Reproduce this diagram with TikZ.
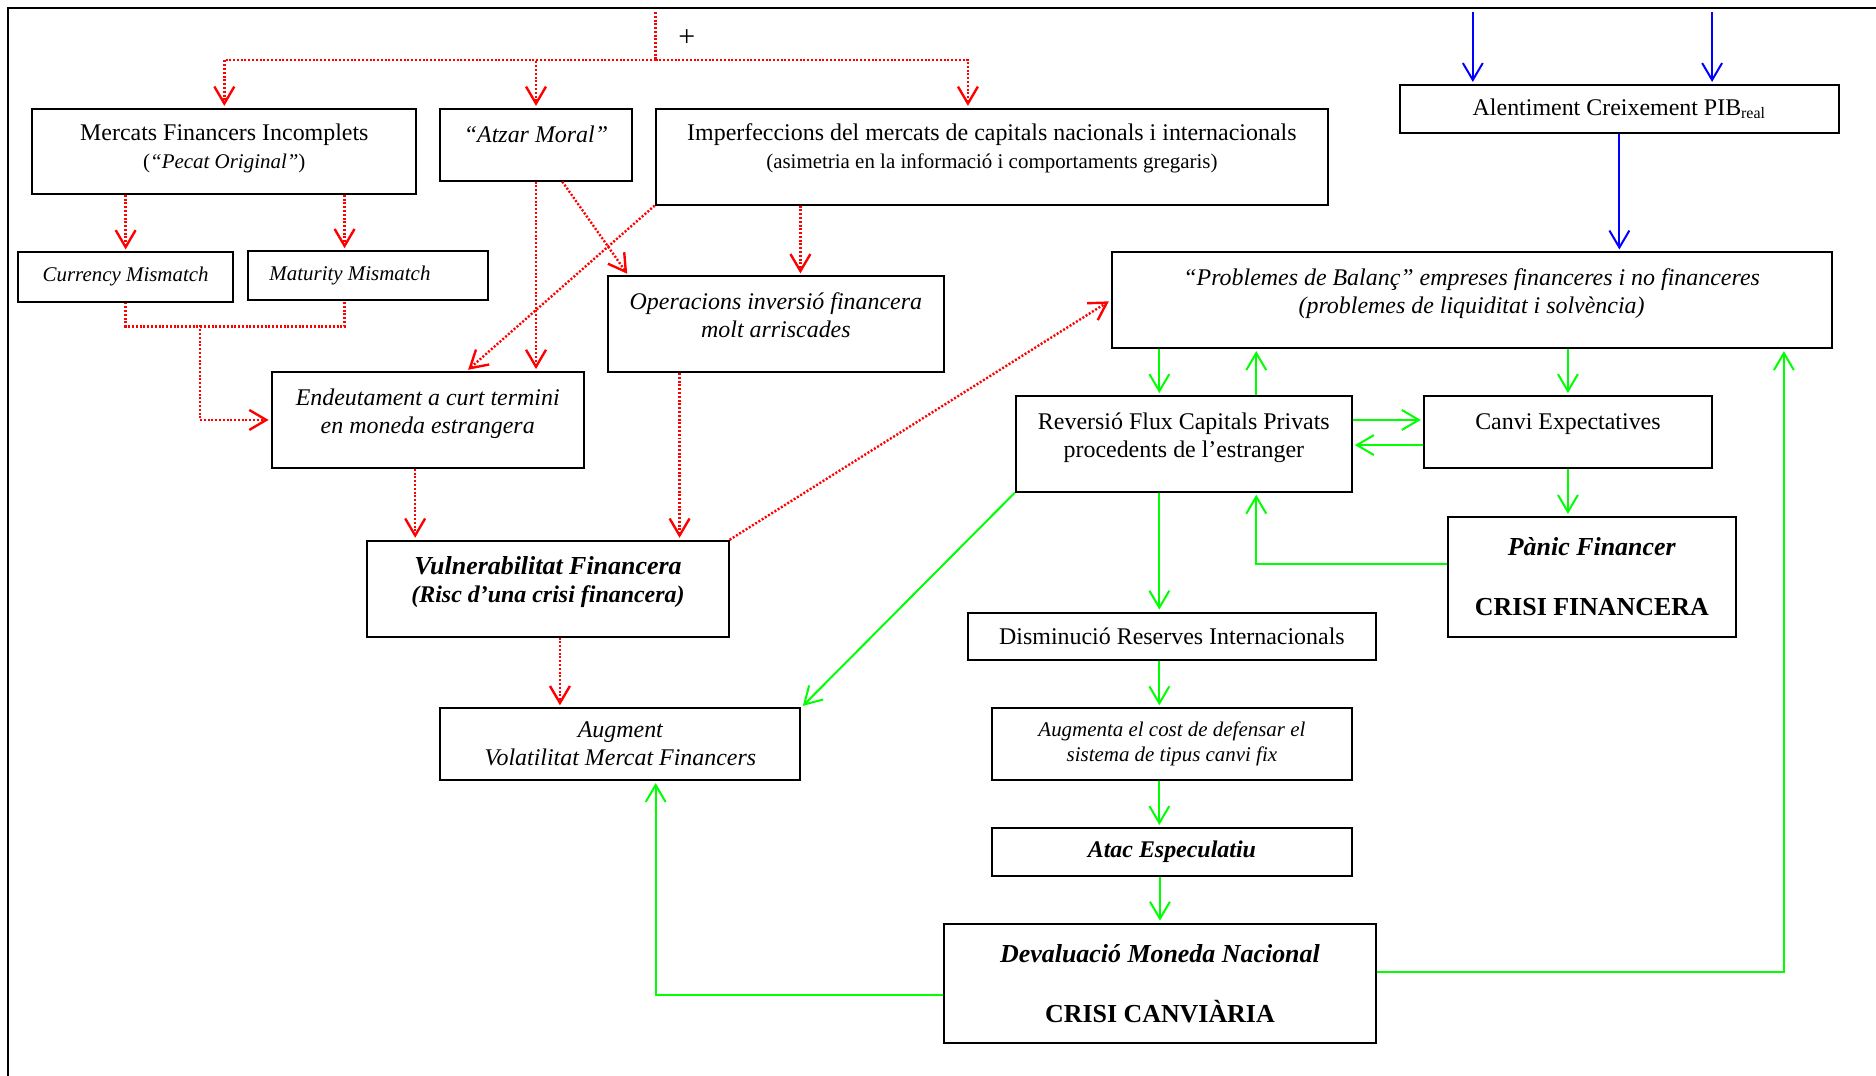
\documentclass[tikz,border=0pt]{standalone}
\usepackage{fontspec}
\setmainfont{Liberation Serif}
\usetikzlibrary{arrows.meta}

\begin{document}
\begin{tikzpicture}[x=0.6pt, y=-0.6pt,
    box/.style = {draw, line width=1pt, align=center, inner sep=2pt, font=\fontsize{12}{14}\selectfont},
    ital/.style = {font=\fontsize{12}{14}\selectfont\itshape},
    riskline/.style = {red, line width=1.2pt, dash pattern=on 1pt off 0.9pt},
    risk/.style = {riskline, -{Straight Barb[length=8.5pt, width=10pt]}, shorten >=1pt},
    slow/.style = {blue, line width=1pt, -{Straight Barb[length=8.5pt, width=10pt]}, shorten >=1pt},
    crisis/.style = {green, line width=1pt, -{Straight Barb[length=8.5pt, width=10pt]}, shorten >=1pt}]
    \useasboundingbox (0,0) rectangle (1568,899);
    \draw[line width=1pt] (7,899) -- (7,7) -- (1568,7);

    \node[box, minimum width=192.6pt, minimum height=42.6pt] (1) at (187.5,126.5) {Mercats Financers Incomplets\\{\fontsize{10.5}{12}\selectfont(\textit{“Pecat Original”})}\\[-9pt]~};
    \node[box, ital, minimum width=96pt, minimum height=36pt] (2) at (448,121) {“Atzar Moral”\\[-3pt]~};
    \node[box, minimum width=337.2pt, minimum height=48pt] (3) at (829,131) {Imperfeccions del mercats de capitals nacionals i internacionals\\{\fontsize{10.5}{12}\selectfont(asimetria en la informació i comportaments gregaris)}\\[-3pt]~};
    \node[box, font=\fontsize{10.5}{12}\selectfont\itshape, minimum width=108pt, minimum height=24.6pt] (4) at (105,231.5) {Currency Mismatch};
    \node[box, font=\fontsize{10.5}{12}\selectfont\itshape, minimum width=120.6pt, minimum height=24.6pt] (5) at (307.5,230.5) {Maturity Mismatch\hspace*{18pt}};
    \node[box, ital, minimum width=156.6pt, minimum height=48pt] (6) at (357.5,351) {Endeutament a curt termini\\en moneda estrangera\\[-5pt]~};
    \node[box, ital, minimum width=168.6pt, minimum height=48pt] (7) at (648.5,271) {Operacions inversió financera\\molt arriscades\\[-5pt]~};
    \node[box, font=\fontsize{12}{14}\selectfont\bfseries\itshape, minimum width=181.2pt, minimum height=48pt] (8) at (458,492) {{\fontsize{13}{15}\selectfont Vulnerabilitat Financera}\\(Risc d’una crisi financera)\\[-5pt]~};
    \node[box, ital, minimum width=180.6pt, minimum height=36pt] (9) at (518.5,622) {Augment\\Volatilitat Mercat Financers};
    \node[box, minimum width=220.2pt, minimum height=24pt] (10) at (1353.5,91) {Alentiment Creixement PIB\textsubscript{real}};
    \node[box, ital, minimum width=361.2pt, minimum height=48pt] (11) at (1230,251) {“Problemes de Balanç” empreses financeres i no financeres\\(problemes de liquiditat i solvència)\\[-5pt]~};
    \node[box, minimum width=168.6pt, minimum height=48pt] (12) at (989.5,371) {Reversió Flux Capitals Privats\\procedents de l’estranger\\[-5pt]~};
    \node[box, minimum width=144.6pt, minimum height=36pt] (13) at (1310.5,361) {Canvi Expectatives\\[-4pt]~};
    \node[box, font=\fontsize{13}{15}\selectfont\bfseries, minimum width=144.6pt, minimum height=60pt] (14) at (1330.5,482) {\textit{Pànic Financer}\\[15pt]CRISI FINANCERA};
    \node[box, minimum width=204.6pt, minimum height=24pt] (15) at (979.5,532) {Disminució Reserves Internacionals};
    \node[box, font=\fontsize{10.5}{12.6}\selectfont\itshape, minimum width=180.6pt, minimum height=36pt] (16) at (979.5,622) {Augmenta el cost de defensar el\\sistema de tipus canvi fix};
    \node[box, font=\fontsize{12}{14}\selectfont\bfseries\itshape, minimum width=180.6pt, minimum height=24pt] (17) at (979.5,712) {Atac Especulatiu};
    \node[box, font=\fontsize{13}{15}\selectfont\bfseries, minimum width=216.6pt, minimum height=60pt] (18) at (969.5,822) {\textit{Devaluació Moneda Nacional}\\[15pt]CRISI CANVIÀRIA};
    \node[font=\fontsize{15}{17}\selectfont] (19) at (574,32) {+};

    \coordinate (s0) at (548,10);
    \coordinate (s1) at (548,50);
    \coordinate (j) at (167,272);
    \coordinate (b1) at (1231,10);
    \coordinate (b2) at (1431,10);

    \draw[riskline] (s0) -- (s1);
    \draw[risk] (s1) -| (1.north);
    \draw[risk] (s1) -| (2.north);
    \draw[risk] (s1) -| ([xshift=-12pt]3.north);
    \draw[risk] (1.south -| 4.north) -- (4.north);
    \draw[risk] (1.south -| 288,0) -- (5.north -| 288,0);
    \draw[riskline] (4.south) -- ++(0,20) -| (5.south -| 288,0);
    \draw[risk] (j) |- (6.west);
    \draw[risk] (2.south) -- (2.south |- 6.north);
    \draw[risk] ([xshift=13.2pt]2.south) -- ([xshift=10.8pt]7.north west);
    \draw[risk] (3.south west) -- ([xshift=19.5pt]6.north);
    \draw[risk] ([xshift=12.3pt]7.north |- 3.south) -- ([xshift=12.3pt]7.north);
    \draw[risk] ([xshift=-6.3pt]6.south) -- ([xshift=-6.3pt]6.south |- 8.north);
    \draw[risk] ([xshift=-48.3pt]7.south) -- ([xshift=-48.3pt]7.south |- 8.north);
    \draw[risk] (8.north east) -- (11.west);
    \draw[risk] ([xshift=6pt]8.south) -- ([xshift=6pt]8.south |- 9.north);

    \draw[slow] (b1) -- (b1 |- 10.north);
    \draw[slow] (b2) -- (b2 |- 10.north);
    \draw[slow] (10.south) -- (10.south |- 11.north);

    \draw[crisis] ([xshift=-12.3pt]12.north |- 11.south) -- ([xshift=-12.3pt]12.north);
    \draw[crisis] ([xshift=36.3pt]12.north) -- ([xshift=36.3pt]12.north |- 11.south);
    \draw[crisis] (13.north |- 11.south) -- (13.north);
    \draw[crisis] ([yshift=12pt]12.east) -- ([yshift=12pt]12.east -| 13.west);
    \draw[crisis] ([yshift=-6.6pt]13.west) -- ([yshift=-6.6pt]13.west -| 12.east);
    \draw[crisis] (13.south) -- (13.south |- 14.north);
    \draw[crisis] ([yshift=6.6pt]14.west) -| ([xshift=36.3pt]12.south);
    \draw[crisis] ([xshift=-12.3pt]12.south) -- ([xshift=-12.3pt]12.south |- 15.north);
    \draw[crisis] (12.south west) -- (9.north east);
    \draw[crisis] ([xshift=-6.3pt]15.south) -- ([xshift=-6.3pt]15.south |- 16.north);
    \draw[crisis] ([xshift=-6.3pt]16.south) -- ([xshift=-6.3pt]16.south |- 17.north);
    \draw[crisis] (17.south -| 18.north) -- (18.north);
    \draw[crisis] ([yshift=-6pt]18.west) -| ([xshift=17.7pt]9.south);
    \draw[crisis] ([yshift=6pt]18.east) -| ([xshift=156.6pt]11.south);
\end{tikzpicture}
\end{document}
